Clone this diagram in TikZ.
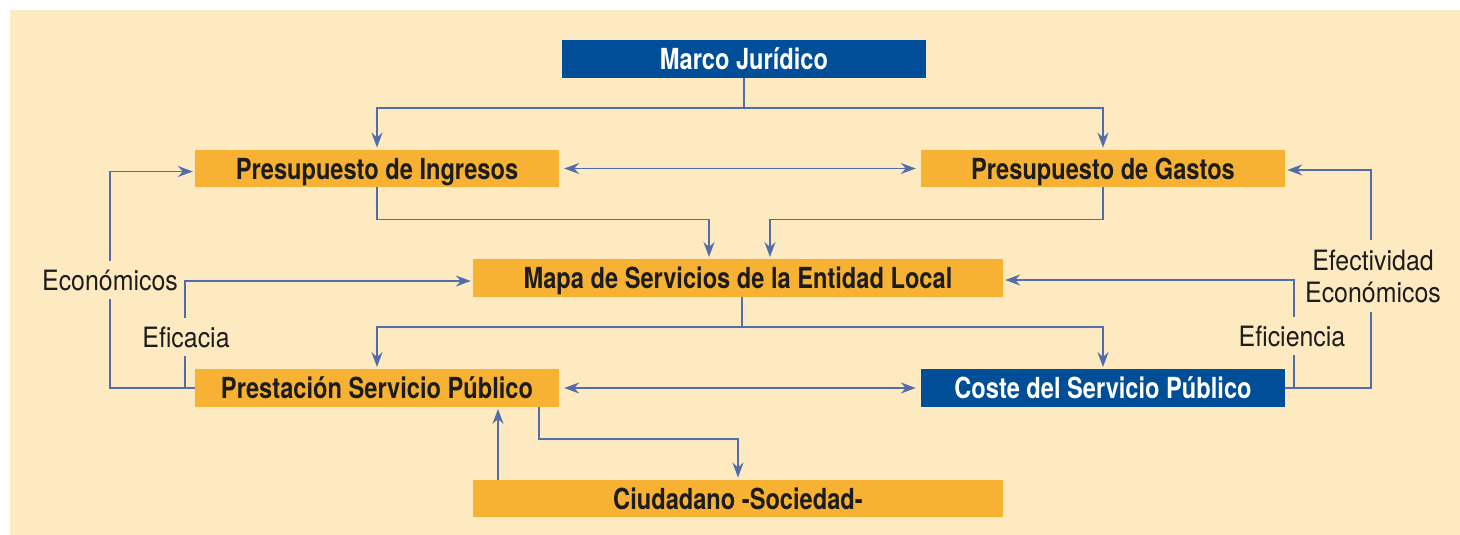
\documentclass[tikz,border=0pt]{standalone}
\usepackage{fontspec}
\newfontfamily\boxfont[FakeStretch=0.815]{TeX Gyre Heros}
\newfontfamily\lblfont[FakeStretch=0.89]{TeX Gyre Heros}
\usetikzlibrary{arrows.meta,calc}
\definecolor{cream}{RGB}{254,234,192}
\definecolor{boxorange}{RGB}{247,178,52}
\definecolor{boxblue}{RGB}{0,77,152}
\definecolor{linkblue}{RGB}{82,110,170}
\definecolor{ink}{RGB}{28,28,28}
\begin{document}
\begin{tikzpicture}[x=1pt,y=-1pt,
  obox/.style={fill=boxorange,text=ink,inner sep=0pt,minimum width=364pt,minimum height=37.5pt,
    font={\boxfont\bfseries\fontsize{29}{32}\selectfont},text height=21pt,text depth=0pt},
  bbox/.style={obox,fill=boxblue,text=white},
  wide/.style={minimum width=530pt},
  lbl/.style={fill=cream,text=ink,inner xsep=2pt,inner ysep=9pt,
    font={\lblfont\fontsize{28}{32}\selectfont},text height=20pt,text depth=0pt},
  lbltwo/.style={fill=cream,text=ink,inner xsep=2pt,inner ysep=10pt,align=center,
    font={\lblfont\fontsize{28}{32}\selectfont}},
  link/.style={draw=linkblue,line width=1.5pt},
  arr/.style={link,-{Stealth[length=15pt,width=11pt,inset=5pt]},shorten >=2pt},
  darr/.style={link,{Stealth[length=15pt,width=11pt,inset=5pt]}-{Stealth[length=15pt,width=11pt,inset=5pt]},shorten >=5pt,shorten <=5pt}
]
\fill[white] (0,0) rectangle (1460,535);
\fill[cream] (10,10) rectangle (1460,535);
\useasboundingbox (0,0) rectangle (1460,535);

% boxes
\node[bbox,minimum height=38pt] (M) at (744,59) {Marco Jurídico};
\node[obox] (I) at (377,168.5) {Presupuesto de Ingresos};
\node[obox] (G) at (1103,168.5) {Presupuesto de Gastos};
\node[obox,wide] (S) at (738,278) {Mapa de Servicios de la Entidad Local};
\node[obox] (P) at (377,388) {Prestación Servicio Público};
\node[bbox] (C) at (1103,388) {Coste del Servicio Público};
\node[obox,wide] (Z) at (738,498.5) {Ciudadano -Sociedad-};

% connectors
\draw[link] (M.south) -- ++(0,30) coordinate (mj);
\draw[arr] (mj) -| (I.north);
\draw[arr] (mj) -| (G.north);
\draw[darr] (I.east) -- (G.west);
\draw[arr] (I.south) -- ++(0,32) -| ($(S.north)+(-29,0)$);
\draw[arr] (G.south) -- ++(0,32) -| ($(S.north)+(32,0)$);
\draw[link] ($(S.south)+(4,0)$) -- ++(0,30) coordinate (sj);
\draw[arr] (sj) -| (P.north);
\draw[arr] (sj) -| (C.north);
\draw[darr] (P.east) -- (C.west);

\draw[arr] (P.west) -- ++(-85,0) |- ($(I.west)+(0,3)$);
\draw[arr] (P.west) -- ++(-10,0) |- ($(S.west)+(0,3)$);
\draw[arr] (C.east) -- ++(9,0) |- ($(S.east)+(0,2)$);
\draw[arr] (C.east) -- ++(86,0) |- ($(G.east)+(0,1.5)$);

\draw[arr] ($(P.south)+(162,0)$) -- ++(0,32) -| (Z.north);
\coordinate (up) at ($(Z.north)+(-240,0)$);
\draw[arr] (up) -- (up |- P.south);

% labels
\node[lbl] (l1) at (110,280) {Económicos};
\node[lbl] (l2) at (186,337) {Eficacia};
\node[lbl] (l3) at (1292,336) {Eficiencia};
\node[lbltwo] (l4) at (1373,276) {Efectividad\\Económicos};
\end{tikzpicture}
\end{document}
